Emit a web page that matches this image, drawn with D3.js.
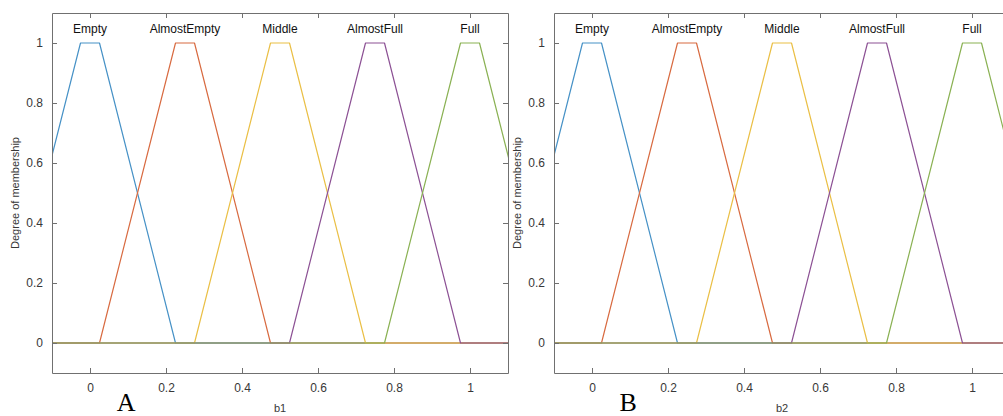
<!DOCTYPE html>
<html>
<head>
<meta charset="utf-8">
<script src="https://cdn.jsdelivr.net/npm/d3@7"></script>
<style>
  html, body { margin: 0; padding: 0; background: #fff; }
  svg { display: block; }
</style>
</head>
<body>
<svg id="chart" width="1003" height="416"></svg>
<script>
// Membership function names and trapezoid parameters [a, b, c, d]
const mfNames = ["Empty", "AlmostEmpty", "Middle", "AlmostFull", "Full"];
const mfParams = [
  [-0.225, -0.025, 0.025, 0.225],
  [0.025, 0.225, 0.275, 0.475],
  [0.275, 0.475, 0.525, 0.725],
  [0.525, 0.725, 0.775, 0.975],
  [0.775, 0.975, 1.025, 1.225]
];
const mfColors = ["#4691c6", "#d86a40", "#eabf45", "#8c5194", "#8ab153"];
const xTicks = [0, 0.2, 0.4, 0.6, 0.8, 1];
const yTicks = [0, 0.2, 0.4, 0.6, 0.8, 1];
const xDomain = [-0.1, 1.1];
const yDomain = [-0.1, 1.1];
const panels = [
  { id: "A", variable: "b1", left: 52 },
  { id: "B", variable: "b2", left: 554 }
];

const svg = d3.select("#chart");
const plotW = 456, plotH = 360, plotTop = 13;
const axisColor = "#707070";
const textColor = "#383838";

panels.forEach((p, i) => {
  const x = d3.scaleLinear().domain(xDomain).range([0, plotW]);
  const y = d3.scaleLinear().domain(yDomain).range([plotH, 0]);
  const g = svg.append("g").attr("transform", `translate(${p.left},${plotTop})`);

  const clipId = "clip" + i;
  g.append("clipPath").attr("id", clipId)
    .append("rect").attr("width", plotW).attr("height", plotH);

  // Trapezoid outlines, each extended along the zero baseline and clipped to the axes box
  const line = d3.line().x(d => x(d[0])).y(d => y(d[1]));
  const curves = g.append("g").attr("clip-path", `url(#${clipId})`);
  mfParams.forEach((prm, k) => {
    const pts = [[-0.3, 0], [prm[0], 0], [prm[1], 1], [prm[2], 1], [prm[3], 0], [1.3, 0]];
    curves.append("path")
      .attr("d", line(pts))
      .attr("fill", "none")
      .attr("stroke", mfColors[k])
      .attr("stroke-width", 1.2)
      .attr("stroke-linejoin", "round");
  });

  // Labels above each membership function peak
  mfNames.forEach((name, k) => {
    const cx = (mfParams[k][1] + mfParams[k][2]) / 2;
    g.append("text")
      .attr("x", x(cx)).attr("y", 20)
      .attr("text-anchor", "middle")
      .attr("font-family", "Liberation Sans, Arial, sans-serif")
      .attr("font-size", 12)
      .attr("fill", "#111")
      .text(name);
  });

  // Axes box with inward ticks on all four sides
  const tl = 5;
  const axisBottom = d3.axisBottom(x).tickValues(xTicks).tickSizeInner(-tl).tickSizeOuter(0)
    .tickPadding(10).tickFormat(d3.format("~g"));
  const axisTop = d3.axisTop(x).tickValues(xTicks).tickSizeInner(-tl).tickSizeOuter(0).tickFormat("");
  const axisLeft = d3.axisLeft(y).tickValues(yTicks).tickSizeInner(-tl).tickSizeOuter(0)
    .tickPadding(9).tickFormat(d3.format("~g"));
  const axisRight = d3.axisRight(y).tickValues(yTicks).tickSizeInner(-tl).tickSizeOuter(0).tickFormat("");

  const styleAxis = sel => {
    sel.selectAll("path.domain").attr("stroke", axisColor).attr("stroke-width", 1);
    sel.selectAll(".tick line").attr("stroke", axisColor);
    sel.selectAll(".tick text")
      .attr("fill", textColor)
      .attr("font-family", "Liberation Sans, Arial, sans-serif")
      .attr("font-size", 12);
  };
  g.append("g").attr("transform", `translate(0,${plotH})`).call(axisBottom).call(styleAxis);
  g.append("g").call(axisTop).call(styleAxis);
  g.append("g").call(axisLeft).call(styleAxis);
  g.append("g").attr("transform", `translate(${plotW},0)`).call(axisRight).call(styleAxis);

  // Axis titles
  g.append("text")
    .attr("transform", `translate(-33,${plotH / 2}) rotate(-90)`)
    .attr("text-anchor", "middle")
    .attr("font-family", "Liberation Sans, Arial, sans-serif")
    .attr("font-size", 11)
    .attr("fill", textColor)
    .text("Degree of membership");
  g.append("text")
    .attr("x", plotW / 2).attr("y", plotH + 39)
    .attr("text-anchor", "middle")
    .attr("font-family", "Liberation Sans, Arial, sans-serif")
    .attr("font-size", 11)
    .attr("fill", textColor)
    .text(p.variable);

  // Panel letter
  g.append("text")
    .attr("x", x(0.095)).attr("y", plotH + 38)
    .attr("text-anchor", "middle")
    .attr("font-family", "Liberation Serif, Times New Roman, serif")
    .attr("font-size", 26)
    .attr("fill", "#000")
    .text(p.id);
});
</script>
</body>
</html>
